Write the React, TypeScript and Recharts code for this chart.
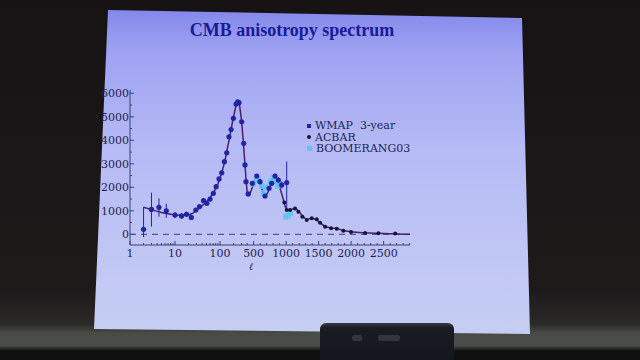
import React from 'react'
import {
    ComposedChart, Line, Scatter, XAxis, YAxis, ErrorBar, ReferenceLine, Legend
} from 'recharts'

// multipole ℓ and power ℓ(ℓ+1)Cℓ/2π [μK²]
const wmapEll = [2, 3, 4.4, 6.4, 10, 14, 18, 23, 29, 35, 43, 51, 60, 71, 82, 95, 109, 125, 141, 158, 176, 198, 227, 247, 264, 303, 336, 359, 378, 415, 480, 548, 598, 675, 737, 778, 829, 880, 932, 1009]
const wmapPower = [213, 1060, 1150, 1000, 820, 780, 850, 720, 1035, 1180, 1430, 1320, 1500, 1745, 2025, 2355, 2620, 3090, 3470, 4150, 4460, 4935, 5540, 5640, 5600, 4790, 3870, 2950, 2240, 1720, 2170, 2480, 2240, 1630, 1960, 2170, 2480, 2310, 2100, 2200]
const wmapErrLo = [330, 730, 400, 300, 130, 120, 110, 110, 90, 80, 80, 70, 70, 60, 60, 60, 60, 60, 60, 60, 60, 60, 60, 60, 60, 60, 60, 60, 60, 60, 70, 70, 80, 80, 90, 100, 110, 120, 150, 1100]
const wmapErrHi = [950, 710, 380, 300, 130, 120, 110, 110, 90, 80, 80, 70, 70, 60, 60, 60, 60, 60, 60, 60, 60, 60, 60, 60, 60, 60, 60, 60, 60, 60, 70, 70, 80, 80, 90, 100, 110, 120, 150, 900]

const acbarEll = [972, 1009, 1060, 1137, 1188, 1249, 1317, 1394, 1471, 1522, 1599, 1691, 1779, 1880, 1998, 2215, 2420, 2677]
const acbarPower = [1350, 1030, 1030, 1100, 960, 750, 610, 680, 640, 495, 325, 255, 240, 155, 100, 60, 50, 30]

const boomEll = [500, 540, 570, 620, 650, 690, 760, 800, 840, 870, 990, 1030, 1070]
const boomPower = [2150, 2300, 2350, 2050, 1750, 2000, 2250, 2400, 2250, 2050, 750, 780, 900]

const modelEll = [2, 3, 5, 8, 12, 18, 25, 35, 50, 70, 90, 110, 130, 150, 170, 190, 210, 230, 250, 265, 285, 305, 325, 345, 365, 385, 405, 430, 460, 500, 540, 575, 610, 650, 680, 720, 770, 820, 860, 900, 950, 990, 1020, 1060, 1120, 1150, 1200, 1260, 1320, 1380, 1430, 1500, 1580, 1680, 1780, 1880, 2000, 2200, 2400, 2700, 2930]
const modelPower = [1150, 1050, 930, 850, 810, 820, 900, 1120, 1390, 1740, 2150, 2650, 3180, 3780, 4300, 4800, 5200, 5520, 5650, 5560, 5200, 4700, 4050, 3400, 2750, 2150, 1750, 1650, 1850, 2150, 2420, 2380, 2100, 1750, 1640, 1800, 2150, 2420, 2300, 2000, 1550, 1150, 1020, 1020, 1100, 1080, 950, 760, 630, 680, 660, 540, 370, 270, 240, 160, 110, 65, 40, 15, 0]

const xMajorEll = [1, 10, 100, 500, 1000, 1500, 2000, 2500]
const xMinorEll = [2, 3, 4, 5, 6, 7, 8, 9, 20, 30, 40, 50, 60, 70, 80, 90, 200, 300, 400,
    600, 700, 800, 900, 1100, 1200, 1300, 1400, 1600, 1700, 1800, 1900, 2100, 2200, 2300, 2400, 2600, 2700, 2800, 2900]
const yMajor = [0, 1000, 2000, 3000, 4000, 5000, 6000]
const yMinor = [500, 1500, 2500, 3500, 4500, 5500]

// the plot uses log ℓ up to 400, linear above
const BREAK = 400
const DEC_PER_500 = 0.722
const toU = (l: number) => l <= BREAK ? Math.log10(l) : Math.log10(BREAK) + (l - BREAK) / 500 * DEC_PER_500

const X_DOMAIN = [0, 6.22]
const Y_DOMAIN = [-455, 6140]

const wmapData = wmapEll.map((l, i) => ({ u: toU(l), d: wmapPower[i], err: [wmapErrLo[i], wmapErrHi[i]] }))
const acbarData = acbarEll.map((l, i) => ({ u: toU(l), d: acbarPower[i] }))
const boomData = boomEll.map((l, i) => ({ u: toU(l), d: boomPower[i] }))
const modelData = modelEll.map((l, i) => ({ u: toU(l), d: modelPower[i] }))

const xMajorU = xMajorEll.map(toU)
const xTicks = [...xMajorU, ...xMinorEll.map(toU)].sort((a, b) => a - b)
const yTicks = [...yMajor, ...yMinor].sort((a, b) => a - b)

const FONT = '"DejaVu Serif", "Liberation Serif", serif'
const FRAME = '#3c4170'
const INK = '#1d1f52'
const WMAP_C = '#2024a6'
const ACBAR_C = '#12143e'
const BOOM_C = '#5cc6ee'

const majorX = (v: number) => xMajorU.findIndex(m => Math.abs(m - v) < 1e-6)

const BottomTick = (props: any) => {
    const { x, y, payload } = props
    const i = majorX(payload.value)
    return (
        <g>
            <line x1={x} x2={x} y1={y} y2={y - (i >= 0 ? 4 : 2)} stroke={FRAME} />
            {i >= 0 && (
                <text x={x} y={y + 12} textAnchor="middle" fontSize={11} fontFamily={FONT} fill={INK}>
                    {xMajorEll[i]}
                </text>
            )}
        </g>
    )
}

const TopTick = (props: any) => {
    const { x, y, payload } = props
    const big = majorX(payload.value) >= 0
    return <line x1={x} x2={x} y1={y} y2={y + (big ? 4 : 2)} stroke={FRAME} />
}

const LeftTick = (props: any) => {
    const { x, y, payload } = props
    const big = yMajor.includes(payload.value)
    return (
        <g>
            <line x1={x} x2={x + (big ? 4 : 2)} y1={y} y2={y} stroke={FRAME} />
            {big && (
                <text x={x - 1} y={y + 4} textAnchor="end" fontSize={11} fontFamily={FONT} fill={INK}>
                    {payload.value}
                </text>
            )}
        </g>
    )
}

const RightTick = (props: any) => {
    const { x, y, payload } = props
    const big = yMajor.includes(payload.value)
    return <line x1={x} x2={x - (big ? 4 : 2)} y1={y} y2={y} stroke={FRAME} />
}

const legendOrder = ['WMAP 3-year', 'ACBAR', 'BOOMERANG03']

const LegendBox = (props: any) => {
    const items = (props.payload || [])
        .filter((p: any) => legendOrder.includes(p.value))
        .sort((a: any, b: any) => legendOrder.indexOf(a.value) - legendOrder.indexOf(b.value))
    return (
        <div style={{ fontFamily: FONT, fontSize: 11, color: INK, lineHeight: '11.5px' }}>
            {items.map((p: any) => (
                <div key={p.value} style={{ display: 'flex', alignItems: 'center', whiteSpace: 'pre' }}>
                    <span style={{
                        display: 'inline-block',
                        width: p.value === 'BOOMERANG03' ? 5 : 4,
                        height: p.value === 'BOOMERANG03' ? 5 : 4,
                        borderRadius: p.value === 'ACBAR' ? 2 : 0,
                        background: p.color,
                        marginRight: 4
                    }}></span>
                    {p.value === 'WMAP 3-year' ? 'WMAP  3-year' : p.value}
                </div>
            ))}
        </div>
    )
}

export default function App() {
    return (
        <div style={{
            position: 'relative', width: 640, height: 360, overflow: 'hidden',
            background: 'linear-gradient(180deg, #171314 0%, #1d1a1a 80%, #2a2a28 90%, #484b46 92.5%, #4a4d48 96%, #0f0f0f 97.5%)'
        }}>
            <style>{'body{margin:0}'}</style>

            {/* projected slide */}
            <div style={{
                position: 'absolute', inset: 0,
                clipPath: 'polygon(108px 10px, 522px 18px, 530px 334px, 94px 329px)',
                background: 'linear-gradient(180deg, #7d81ea 0%, #9ea2f1 14%, #b5b9f5 40%, #c0c6f4 70%, #c8d0f2 100%)'
            }}></div>

            <div style={{
                position: 'absolute', left: 0, width: 584, top: 20, textAlign: 'center',
                fontFamily: '"Liberation Serif", "Times New Roman", serif', fontWeight: 'bold',
                fontSize: 18, lineHeight: '20px', color: '#1a1b98'
            }}>
                CMB anisotropy spectrum
            </div>

            <div style={{ position: 'absolute', left: 0, top: 0 }}>
                <ComposedChart width={640} height={360} margin={{ top: 90, right: 230, bottom: 85, left: 90 }}>
                    <XAxis dataKey="u" type="number" domain={X_DOMAIN} allowDataOverflow ticks={xTicks} interval={0}
                        height={30} tickSize={0} tickMargin={0} axisLine={{ stroke: FRAME }} tickLine={false} tick={BottomTick} />
                    <XAxis xAxisId="top" orientation="top" dataKey="u" type="number" domain={X_DOMAIN} allowDataOverflow
                        ticks={xTicks} interval={0} height={0} tickSize={0} tickMargin={0}
                        axisLine={{ stroke: FRAME }} tickLine={false} tick={TopTick} />
                    <YAxis dataKey="d" type="number" domain={Y_DOMAIN} allowDataOverflow ticks={yTicks} interval={0}
                        width={40} tickSize={0} tickMargin={0} axisLine={{ stroke: FRAME }} tickLine={false} tick={LeftTick} />
                    <YAxis yAxisId="right" orientation="right" dataKey="d" type="number" domain={Y_DOMAIN} allowDataOverflow
                        ticks={yTicks} interval={0} width={0} tickSize={0} tickMargin={0}
                        axisLine={{ stroke: FRAME }} tickLine={false} tick={RightTick} />

                    <ReferenceLine y={0} stroke="#3a3f6a" strokeDasharray="6 5" strokeWidth={1} />

                    <Scatter name="BOOMERANG03" data={boomData} fill={BOOM_C} legendType="square" isAnimationActive={false}
                        shape={(p: any) => <rect x={p.cx - 2.5} y={p.cy - 3} width={5} height={6} fill={BOOM_C} opacity={0.85} />} />
                    <Line data={modelData} dataKey="d" type="monotone" stroke="#4a1f66" strokeWidth={1.5}
                        dot={false} legendType="none" isAnimationActive={false} />
                    <Scatter name="ACBAR" data={acbarData} fill={ACBAR_C} legendType="circle" isAnimationActive={false}
                        shape={(p: any) => <circle cx={p.cx} cy={p.cy} r={2} fill={ACBAR_C} />} />
                    <Scatter name="WMAP 3-year" data={wmapData} fill={WMAP_C} legendType="square" isAnimationActive={false}
                        shape={(p: any) => <circle cx={p.cx} cy={p.cy} r={2.6} fill={WMAP_C} />}>
                        <ErrorBar dataKey="err" direction="y" width={0} stroke={WMAP_C} strokeWidth={1} />
                    </Scatter>

                    <Legend content={LegendBox} layout="vertical" align="center" verticalAlign="middle"
                        wrapperStyle={{ position: 'absolute', left: 307, top: 120, width: 110 }} />
                </ComposedChart>
            </div>

            <span style={{
                position: 'absolute', left: 249, top: 262, fontFamily: FONT, fontStyle: 'italic',
                fontSize: 10, lineHeight: '10px', color: INK
            }}>ℓ</span>

            {/* projector on the table */}
            <div style={{
                position: 'absolute', left: 320, top: 323, width: 134, height: 40,
                background: 'linear-gradient(180deg, #3a3a48 0%, #1b1b24 12%, #15151c 100%)',
                borderRadius: '6px 6px 0 0'
            }}>
                <div style={{ position: 'absolute', left: 32, top: 12, width: 10, height: 6, background: '#34343c', borderRadius: 2 }}></div>
                <div style={{ position: 'absolute', left: 58, top: 12, width: 22, height: 6, background: '#34343c', borderRadius: 2 }}></div>
            </div>
        </div>
    )
}
